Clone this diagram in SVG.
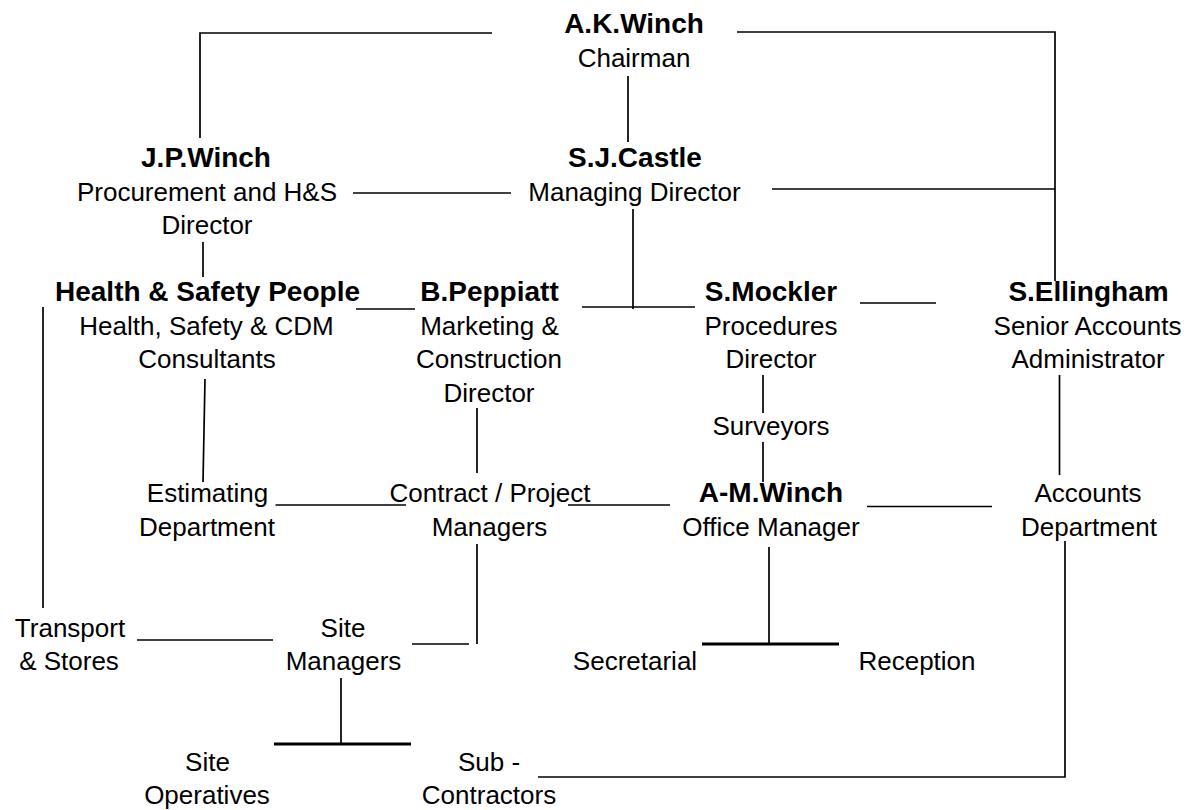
<svg xmlns="http://www.w3.org/2000/svg" width="1188" height="810" viewBox="0 0 1188 810">
<style>
text{font-family:"Liberation Sans",Arial,sans-serif;font-size:26px;fill:#000;text-anchor:middle}
.b{font-weight:bold;font-size:28px}
.c line,.c polyline{stroke:#000;stroke-width:1.7;fill:none}
.c .t{stroke-width:3.2}
</style>
<rect width="1188" height="810" fill="#fff"/>
<g class="c" id="connectors">
<polyline points="492,33 200,33 200,138"/>
<polyline points="737,32 1055,32 1055,281"/>
<line x1="628" y1="76" x2="628" y2="142"/>
<line x1="353" y1="193" x2="511" y2="193"/>
<line x1="772" y1="189" x2="1055" y2="189"/>
<line x1="633" y1="209" x2="633" y2="309"/>
<line x1="203" y1="242" x2="203" y2="277"/>
<line x1="356" y1="309" x2="415" y2="309"/>
<line x1="582" y1="307" x2="695" y2="307"/>
<line x1="860" y1="303" x2="936" y2="303"/>
<line x1="43" y1="307" x2="43" y2="608"/>
<line x1="205" y1="379" x2="203" y2="482"/>
<line x1="477" y1="408" x2="477" y2="473"/>
<line x1="763" y1="375" x2="763" y2="413"/>
<line x1="763" y1="442" x2="763" y2="482"/>
<line x1="1059.5" y1="375" x2="1059.5" y2="475"/>
<line x1="275.5" y1="505" x2="406" y2="505"/>
<line x1="568" y1="505" x2="670" y2="505"/>
<line x1="867" y1="506.5" x2="992" y2="506.5"/>
<line x1="769" y1="547" x2="769" y2="644"/>
<line class="t" x1="702" y1="644" x2="839" y2="644"/>
<line x1="137" y1="640" x2="273" y2="640"/>
<line x1="412" y1="644" x2="469" y2="644"/>
<line x1="477" y1="544" x2="477" y2="644"/>
<line x1="341" y1="678" x2="341" y2="744"/>
<line class="t" x1="274" y1="744" x2="411" y2="744"/>
<polyline points="538,777 1065,777 1065,541"/>
</g>
<g id="chairman"><text class="b" x="634" y="33">A.K.Winch</text><text x="634" y="66.5">Chairman</text></g>
<g id="jpwinch"><text class="b" x="206" y="167">J.P.Winch</text><text x="207" y="200.5">Procurement and H&amp;S</text><text x="207" y="234">Director</text></g>
<g id="sjcastle"><text class="b" x="635" y="167">S.J.Castle</text><text x="634.5" y="200.5">Managing Director</text></g>
<g id="hsp"><text class="b" x="207.5" y="301">Health &amp; Safety People</text><text x="206.5" y="334.5">Health, Safety &amp; CDM</text><text x="207" y="368">Consultants</text></g>
<g id="bpeppiatt"><text class="b" x="489.5" y="301">B.Peppiatt</text><text x="489.5" y="334.5">Marketing &amp;</text><text x="489" y="368">Construction</text><text x="489" y="401.5">Director</text></g>
<g id="smockler"><text class="b" x="771" y="301">S.Mockler</text><text x="771" y="334.5">Procedures</text><text x="771" y="368">Director</text></g>
<g id="sellingham"><text class="b" x="1088.5" y="301">S.Ellingham</text><text x="1087.5" y="334.5">Senior Accounts</text><text x="1088" y="368">Administrator</text></g>
<g id="surveyors"><text x="771" y="435">Surveyors</text></g>
<g id="estimating"><text x="207.5" y="502">Estimating</text><text x="207" y="535.5">Department</text></g>
<g id="contract"><text x="490" y="502">Contract / Project</text><text x="489.5" y="535.5">Managers</text></g>
<g id="amwinch"><text class="b" x="771" y="502">A-M.Winch</text><text x="771" y="535.5">Office Manager</text></g>
<g id="accounts"><text x="1088" y="502">Accounts</text><text x="1089" y="535.5">Department</text></g>
<g id="transport"><text x="70" y="636.5">Transport</text><text x="69" y="670">&amp; Stores</text></g>
<g id="sitemanagers"><text x="343" y="636.5">Site</text><text x="343.5" y="670">Managers</text></g>
<g id="secretarial"><text x="635" y="670">Secretarial</text></g>
<g id="reception"><text x="917" y="670">Reception</text></g>
<g id="siteoperatives"><text x="207.5" y="770.5">Site</text><text x="207" y="804">Operatives</text></g>
<g id="subcontractors"><text x="489" y="770.5">Sub -</text><text x="489" y="804">Contractors</text></g>
</svg>
